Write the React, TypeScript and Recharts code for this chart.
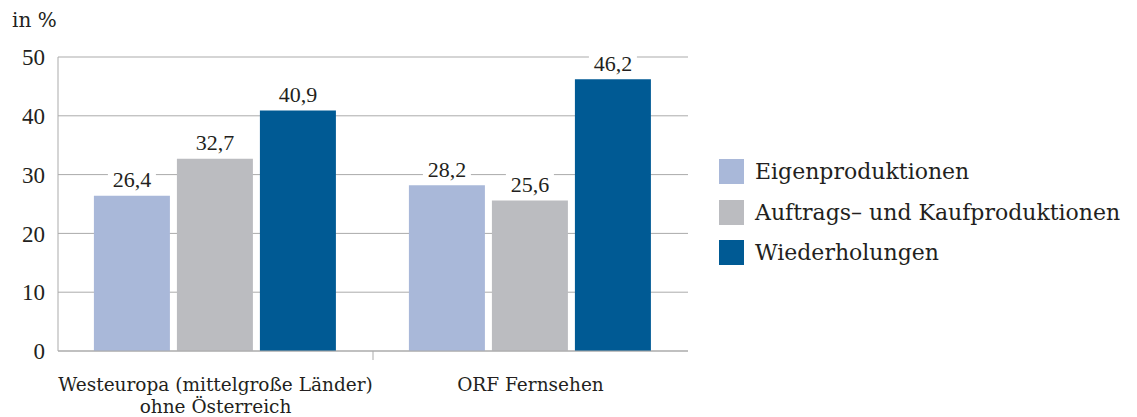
import React from 'react';
import { BarChart, Bar, XAxis, YAxis, CartesianGrid, LabelList } from 'recharts';

const categoryLines: string[][] = [
  ['Westeuropa (mittelgroße Länder)', 'ohne Österreich'],
  ['ORF Fernsehen'],
];
const eigen = [26.4, 28.2];
const auftrag = [32.7, 25.6];
const wieder = [40.9, 46.2];
const seriesNames = ['Eigenproduktionen', 'Auftrags– und Kaufproduktionen', 'Wiederholungen'];
const seriesKeys = ['e', 'a', 'w'];
const seriesColors = ['#A9B8D9', '#BBBCC0', '#005A94'];
const yTicks = [0, 10, 20, 30, 40, 50];
const unitLabel = 'in %';

const data = categoryLines.map((lines, i) => ({
  name: lines.join(' '),
  e: eigen[i],
  a: auftrag[i],
  w: wieder[i],
}));

const TEXT = '#231F20';
const GRID = '#ABABAB';
const TEXT_FONT = '"DejaVu Serif", serif';
const NUM_FONT = '"Liberation Serif", serif';

const ValueLabel = (props: any) => {
  const { x, y, width, value } = props;
  const cx = x + width / 2;
  const cy = y - 16;
  const txt = String(Number(value).toFixed(1)).replace('.', ',');
  return (
    <g>
      <rect x={cx - 24} y={cy - 11} width={48} height={22} fill="#fff" />
      <text x={cx} y={cy} textAnchor="middle" dominantBaseline="central" fontFamily={NUM_FONT} fontSize={22} fill={TEXT}>
        {txt}
      </text>
    </g>
  );
};

const CatTick = (props: any) => {
  const { x, y, payload, index } = props;
  const lines = categoryLines[index] || [String(payload.value)];
  const off = payload.offset || 0;
  return (
    <g>
      {index > 0 && <line x1={x - off} y1={y} x2={x - off} y2={y + 9} stroke={GRID} strokeWidth={1} />}
      {lines.map((l, i) => (
        <text key={i} x={x} y={y + 33 + i * 22} textAnchor="middle" dominantBaseline="central" fontFamily={TEXT_FONT} fontSize={18.5} fill={TEXT}>
          {l}
        </text>
      ))}
    </g>
  );
};

export default function App() {
  return (
    <div style={{ position: 'absolute', left: 0, top: 0, width: 1137, height: 417, background: '#fff' }}>
      <div style={{ position: 'absolute', left: 12, top: 8, fontFamily: TEXT_FONT, fontSize: 20, color: TEXT }}>{unitLabel}</div>
      <BarChart
        width={1137}
        height={417}
        data={data}
        margin={{ top: 57, right: 449, bottom: 0, left: 0 }}
        barCategoryGap="11.4%"
        barGap={7}
      >
        <CartesianGrid yAxisId="l" vertical={false} stroke={GRID} />
        <XAxis
          dataKey="name"
          height={66}
          axisLine={{ stroke: GRID }}
          tickLine={false}
          tickSize={0}
          tickMargin={0}
          tick={<CatTick />}
          interval={0}
        />
        <YAxis
          yAxisId="l"
          width={58}
          domain={[0, 50]}
          ticks={yTicks}
          interval={0}
          axisLine={{ stroke: GRID }}
          tickLine={false}
          tickSize={0}
          tickMargin={13}
          tick={{ fontFamily: NUM_FONT, fontSize: 23, fill: TEXT }}
        />
        <YAxis
          yAxisId="r"
          orientation="right"
          width={0}
          domain={[0, 50]}
          ticks={yTicks}
          axisLine={{ stroke: GRID }}
          tickLine={false}
          tick={false}
        />
        {seriesKeys.map((k, i) => (
          <Bar key={k} yAxisId="l" dataKey={k} name={seriesNames[i]} fill={seriesColors[i]} isAnimationActive={false}>
            <LabelList dataKey={k} content={<ValueLabel />} />
          </Bar>
        ))}
      </BarChart>
      <div style={{ position: 'absolute', left: 719, top: 159, fontFamily: TEXT_FONT, fontSize: 22, color: TEXT }}>
        {seriesNames.map((n, i) => (
          <div key={n} style={{ display: 'flex', alignItems: 'center', height: 25, marginBottom: 15.5 }}>
            <div style={{ width: 25, height: 25, background: seriesColors[i], marginRight: 11 }} />
            <span style={{ whiteSpace: 'nowrap' }}>{n}</span>
          </div>
        ))}
      </div>
    </div>
  );
}
